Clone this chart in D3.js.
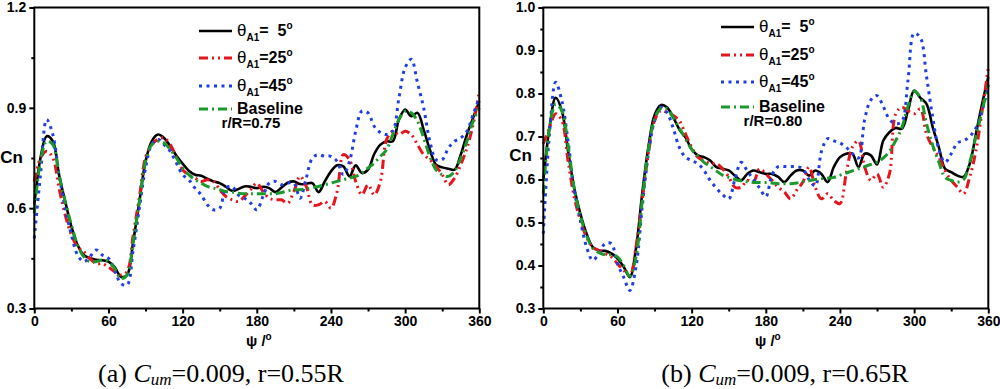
<!DOCTYPE html>
<html>
<head>
<meta charset="utf-8">
<script src="https://cdn.jsdelivr.net/npm/d3@7"></script>
<style>
  body { margin: 0; background: #fff; }
  svg { display: block; }
  .tick text { font-family: "Liberation Sans", Arial, sans-serif; font-weight: bold; font-size: 14px; fill: #000; }
</style>
</head>
<body>
<svg id="chart" width="1000" height="389"></svg>
<script>
// azimuth grid (deg)
const psi = [0,5,10,15,20,25,30,35,40,45,50,55,60,65,70,75,80,85,90,95,100,105,110,115,120,125,130,135,140,145,150,155,160,165,170,175,180,185,190,195,200,205,210,215,220,225,230,235,240,245,250,255,260,265,270,275,280,285,290,295,300,305,310,315,320,325,330,335,340,345,350,355,360]

// (a) r = 0.55R, Cn
const a_t5 = [0.61,0.75,0.815,0.80,0.70,0.62,0.545,0.49,0.46,0.45,0.446,0.444,0.44,0.424,0.395,0.40,0.50,0.62,0.74,0.80,0.82,0.81,0.785,0.757,0.733,0.712,0.70,0.697,0.688,0.68,0.675,0.664,0.652,0.657,0.665,0.664,0.66,0.664,0.66,0.648,0.662,0.676,0.68,0.672,0.673,0.675,0.648,0.68,0.71,0.728,0.725,0.695,0.728,0.705,0.715,0.762,0.79,0.80,0.80,0.865,0.895,0.875,0.885,0.835,0.775,0.73,0.722,0.718,0.715,0.76,0.82,0.87,0.92]
const a_t25 = [0.68,0.75,0.77,0.75,0.66,0.58,0.52,0.484,0.47,0.45,0.434,0.434,0.424,0.41,0.40,0.41,0.52,0.633,0.752,0.79,0.806,0.81,0.79,0.752,0.715,0.70,0.69,0.68,0.685,0.68,0.655,0.635,0.625,0.62,0.635,0.655,0.675,0.65,0.63,0.625,0.625,0.615,0.65,0.695,0.665,0.61,0.61,0.62,0.60,0.65,0.76,0.745,0.68,0.64,0.67,0.64,0.68,0.805,0.83,0.82,0.83,0.82,0.79,0.76,0.745,0.725,0.70,0.67,0.69,0.73,0.78,0.85,0.95]
const a_t45 = [0.51,0.70,0.865,0.82,0.70,0.60,0.52,0.46,0.44,0.455,0.475,0.46,0.45,0.414,0.375,0.37,0.475,0.60,0.72,0.79,0.806,0.79,0.77,0.735,0.70,0.685,0.66,0.64,0.61,0.595,0.60,0.66,0.665,0.64,0.63,0.615,0.595,0.635,0.675,0.68,0.67,0.675,0.675,0.63,0.69,0.75,0.76,0.755,0.755,0.74,0.70,0.74,0.83,0.89,0.885,0.845,0.826,0.82,0.83,0.93,1.02,1.045,0.975,0.90,0.80,0.745,0.745,0.78,0.80,0.81,0.83,0.88,0.93]
const a_base = [0.585,0.74,0.80,0.79,0.70,0.62,0.55,0.49,0.455,0.44,0.44,0.445,0.44,0.42,0.39,0.40,0.50,0.62,0.74,0.79,0.80,0.795,0.775,0.75,0.72,0.70,0.685,0.675,0.665,0.66,0.655,0.65,0.648,0.645,0.643,0.643,0.643,0.643,0.643,0.643,0.647,0.652,0.655,0.655,0.658,0.662,0.665,0.67,0.675,0.68,0.685,0.69,0.695,0.705,0.72,0.735,0.755,0.775,0.82,0.865,0.89,0.885,0.86,0.81,0.755,0.715,0.70,0.695,0.71,0.75,0.80,0.86,0.90]

// (b) r = 0.65R, Cn
const b_t5 = [0.598,0.72,0.79,0.76,0.667,0.58,0.52,0.474,0.443,0.435,0.434,0.428,0.416,0.397,0.373,0.44,0.567,0.675,0.75,0.773,0.768,0.745,0.717,0.698,0.671,0.656,0.652,0.644,0.629,0.625,0.621,0.609,0.598,0.613,0.621,0.617,0.613,0.613,0.606,0.594,0.609,0.621,0.621,0.609,0.621,0.613,0.594,0.629,0.652,0.66,0.66,0.629,0.66,0.656,0.635,0.69,0.71,0.72,0.718,0.76,0.807,0.79,0.776,0.722,0.675,0.625,0.617,0.609,0.606,0.637,0.706,0.776,0.838]
const b_t25 = [0.683,0.72,0.753,0.737,0.644,0.559,0.505,0.466,0.443,0.435,0.428,0.42,0.404,0.389,0.377,0.443,0.551,0.66,0.737,0.76,0.756,0.749,0.737,0.706,0.675,0.652,0.644,0.637,0.637,0.625,0.606,0.582,0.582,0.598,0.594,0.625,0.613,0.598,0.582,0.571,0.555,0.575,0.594,0.629,0.582,0.555,0.567,0.551,0.544,0.613,0.675,0.69,0.629,0.598,0.613,0.582,0.613,0.752,0.768,0.76,0.753,0.764,0.706,0.675,0.652,0.621,0.598,0.582,0.567,0.606,0.667,0.76,0.86]
const b_t45 = [0.474,0.706,0.826,0.783,0.69,0.575,0.505,0.443,0.412,0.428,0.451,0.451,0.404,0.373,0.342,0.397,0.536,0.66,0.737,0.768,0.756,0.72,0.675,0.652,0.644,0.637,0.621,0.598,0.58,0.565,0.555,0.60,0.64,0.62,0.60,0.58,0.56,0.61,0.63,0.63,0.63,0.63,0.625,0.60,0.585,0.665,0.695,0.69,0.685,0.675,0.66,0.65,0.74,0.785,0.795,0.77,0.74,0.73,0.735,0.83,0.94,0.93,0.84,0.745,0.67,0.64,0.66,0.685,0.69,0.70,0.72,0.76,0.82]
const b_base = [0.567,0.72,0.775,0.76,0.68,0.58,0.515,0.47,0.44,0.43,0.425,0.425,0.42,0.40,0.375,0.42,0.55,0.67,0.74,0.765,0.765,0.745,0.72,0.695,0.67,0.655,0.64,0.63,0.62,0.61,0.605,0.60,0.597,0.595,0.593,0.593,0.593,0.592,0.59,0.59,0.59,0.592,0.595,0.597,0.60,0.602,0.603,0.605,0.61,0.615,0.62,0.625,0.63,0.635,0.64,0.65,0.665,0.69,0.72,0.77,0.805,0.79,0.73,0.68,0.64,0.605,0.598,0.594,0.60,0.64,0.70,0.76,0.82]

const xTicks = [0,60,120,180,240,300,360]
const a_yTicks = [0.3,0.6,0.9,1.2]
const b_yTicks = [0.3,0.4,0.5,0.6,0.7,0.8,0.9,1.0]
const legendNames = ['=  5', '=25', '=45']
const captions = [['(a) ', '=0.009, r=0.55R', 'r/R=0.75'], ['(b) ', '=0.009, r=0.65R', 'r/R=0.80']]

const styles = [
  {color: '#000000', dash: null, w: 2.6},
  {color: '#e8141c', dash: '9,4,2,4,2,4', w: 3},
  {color: '#1f3fe6', dash: '3,4.5', w: 3},
  {color: '#1a9a2a', dash: '9,4,2,4', w: 3}
]

const svg = d3.select('#chart')
const sans = '"Liberation Sans", Arial, sans-serif'

function drawPanel(left, yDomain, yTicks, yMinor, series, cap, lay){
  const x = d3.scaleLinear().domain([0,360]).range([left, left + 445])
  const y = d3.scaleLinear().domain(yDomain).range([308.5, 7.5])
  const g = svg.append('g')

  // minor ticks
  g.append('g').attr('transform', 'translate(0,308.5)')
    .call(d3.axisBottom(x).tickValues([30,90,150,210,270,330]).tickSize(3).tickFormat(''))
  g.append('g').attr('transform', `translate(${left},0)`)
    .call(d3.axisLeft(y).tickValues(yMinor).tickSize(3).tickFormat(''))
  // major ticks
  g.append('g').attr('transform', 'translate(0,308.5)')
    .call(d3.axisBottom(x).tickValues(xTicks).tickSize(5).tickPadding(3).tickFormat(d3.format('d')))
  g.append('g').attr('transform', `translate(${left},0)`)
    .call(d3.axisLeft(y).tickValues(yTicks).tickSize(5).tickPadding(3).tickFormat(d3.format('.1f')))
  g.selectAll('.domain').remove()
  g.selectAll('.tick line').attr('stroke', '#000').attr('stroke-width', 2)

  const line = d3.line()
    .x((d,i) => x(psi[i]))
    .y(d => y(d))
    .curve(d3.curveCatmullRom.alpha(0.5))

  series.forEach((s, k) => {
    const st = styles[k]
    g.append('path')
      .attr('d', line(s))
      .attr('fill', 'none')
      .attr('stroke', st.color)
      .attr('stroke-width', st.w)
      .attr('stroke-dasharray', st.dash)
      .attr('stroke-linejoin', 'round')
  })

  // frame
  g.append('rect')
    .attr('x', x(0)).attr('y', y(yDomain[1]))
    .attr('width', x(360) - x(0)).attr('height', y(yDomain[0]) - y(yDomain[1]))
    .attr('fill', 'none').attr('stroke', '#000').attr('stroke-width', 2)

  // axis titles
  g.append('text').attr('x', left - 34).attr('y', lay.cnY)
    .attr('font-family', sans).attr('font-weight', 'bold').attr('font-size', 17).text('Cn')
  const xt = g.append('text').attr('x', x(180) + 2).attr('y', 346)
    .attr('text-anchor', 'middle').attr('font-family', sans).attr('font-weight', 'bold').attr('font-size', 15)
  xt.append('tspan').text('ψ /')
  xt.append('tspan').attr('dy', -6).attr('font-size', 10).text('o')

  // legend
  const lx = lay.lx
  const rows = lay.rows
  series.forEach((s, k) => {
    const st = styles[k]
    g.append('line')
      .attr('x1', lx).attr('x2', lx + 33).attr('y1', rows[k]).attr('y2', rows[k])
      .attr('stroke', st.color).attr('stroke-width', st.w).attr('stroke-dasharray', st.dash)
    const t = g.append('text').attr('x', lx + 38).attr('y', rows[k] + 5)
      .attr('font-family', sans).attr('font-weight', 'bold').attr('font-size', 16)
    if (k < 3) {
      t.append('tspan').attr('font-weight', 'normal').attr('font-size', 17).text('θ')
      t.append('tspan').attr('dy', 5).attr('font-size', 10).text('A1')
      t.append('tspan').attr('dy', -5).attr('xml:space', 'preserve').text(legendNames[k])
      t.append('tspan').attr('dy', -7).attr('font-size', 10).text('o')
    } else {
      t.text('Baseline')
    }
  })
  g.append('text').attr('x', lay.rx).attr('y', rows[3] + 19)
    .attr('text-anchor', 'middle').attr('font-family', sans).attr('font-weight', 'bold').attr('font-size', 15)
    .text(cap[2])

  // caption
  const c = g.append('text').attr('x', lay.capX).attr('y', 382)
    .attr('text-anchor', 'middle').attr('font-family', '"Liberation Serif", "Times New Roman", serif').attr('font-size', 26)
  c.append('tspan').text(cap[0])
  c.append('tspan').attr('font-style', 'italic').text('C')
  c.append('tspan').attr('font-style', 'italic').attr('font-size', 17).attr('dy', 3).text('um')
  c.append('tspan').attr('dy', -3).text(cap[1])
}

drawPanel(34.3, [0.3, 1.2], a_yTicks, [0.45, 0.75, 1.05], [a_t5, a_t25, a_t45, a_base], captions[0],
  {lx: 199, rows: [31, 58, 86, 109], rx: 251, cnY: 163, capX: 221})
drawPanel(543.3, [0.3, 1.0], b_yTicks, [0.35,0.45,0.55,0.65,0.75,0.85,0.95], [b_t5, b_t25, b_t45, b_base], captions[1],
  {lx: 721, rows: [27, 55, 82, 107], rx: 773, cnY: 161, capX: 785})
</script>
</body>
</html>
